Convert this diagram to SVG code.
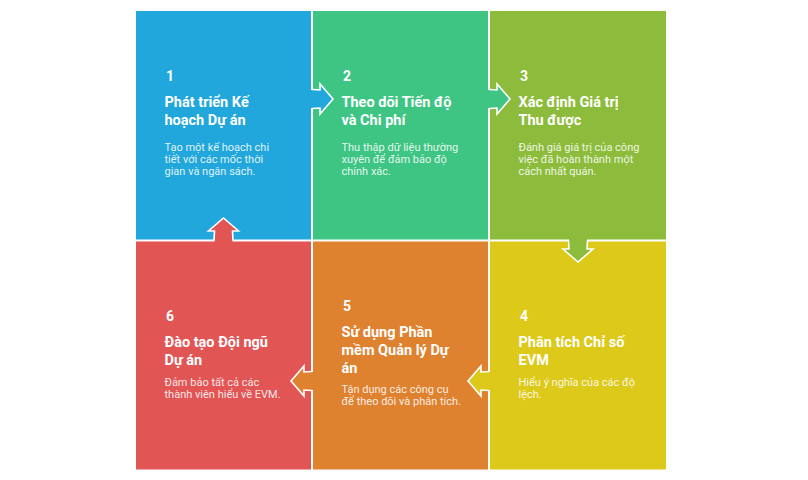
<svg xmlns="http://www.w3.org/2000/svg" width="808" height="480" viewBox="0 0 808 480">
  <style>
    .num { font-family: Roboto, "Liberation Sans", sans-serif; font-weight: 700; font-size: 14px; fill: #ffffff; }
    .ttl { font-family: Roboto, "Liberation Sans", sans-serif; font-weight: 700; font-size: 14.5px; fill: #ffffff; }
    .dsc { font-family: Roboto, "Liberation Sans", sans-serif; font-weight: 400; font-size: 11px; fill: #ffffff; fill-opacity: 0.88; }
    .edge { fill: none; stroke: #ffffff; stroke-width: 1.6; stroke-linejoin: miter; }
  </style>
  <rect x="0" y="0" width="808" height="480" fill="#ffffff"/>

  <g id="node-1">
    <rect x="136" y="11" width="175" height="228.5" fill="#21A7DB"/>
    <text class="num" x="166" y="81">1</text>
    <text class="ttl" x="164.5" y="107">Phát triển Kế</text>
    <text class="ttl" x="164.5" y="125">hoạch Dự án</text>
    <text class="dsc" x="164.5" y="150.5">Tạo một kế hoạch chi</text>
    <text class="dsc" x="164.5" y="162.5">tiết với các mốc thời</text>
    <text class="dsc" x="164.5" y="174.5">gian và ngân sách.</text>
  </g>

  <g id="node-2">
    <rect x="313" y="11" width="175" height="228.5" fill="#3EC584"/>
    <text class="num" x="343" y="81">2</text>
    <text class="ttl" x="341.5" y="107">Theo dõi Tiến độ</text>
    <text class="ttl" x="341.5" y="125">và Chi phí</text>
    <text class="dsc" x="341.5" y="150.5">Thu thập dữ liệu thường</text>
    <text class="dsc" x="341.5" y="162.5">xuyên để đảm bảo độ</text>
    <text class="dsc" x="341.5" y="174.5">chính xác.</text>
  </g>

  <g id="node-3">
    <rect x="490" y="11" width="176" height="228.5" fill="#8DBC3C"/>
    <text class="num" x="520" y="81">3</text>
    <text class="ttl" x="518.5" y="107">Xác định Giá trị</text>
    <text class="ttl" x="518.5" y="125">Thu được</text>
    <text class="dsc" x="518.5" y="150.5">Đánh giá giá trị của công</text>
    <text class="dsc" x="518.5" y="162.5">việc đã hoàn thành một</text>
    <text class="dsc" x="518.5" y="174.5">cách nhất quán.</text>
  </g>

  <g id="node-4">
    <rect x="490" y="241.5" width="176" height="228" fill="#DCC91A"/>
    <text class="num" x="520" y="321">4</text>
    <text class="ttl" x="518.5" y="347">Phân tích Chỉ số</text>
    <text class="ttl" x="518.5" y="365">EVM</text>
    <text class="dsc" x="518.5" y="385.5">Hiểu ý nghĩa của các độ</text>
    <text class="dsc" x="518.5" y="397.5">lệch.</text>
  </g>

  <g id="node-5">
    <rect x="313" y="241.5" width="175" height="228" fill="#DF8230"/>
    <text class="num" x="343" y="311">5</text>
    <text class="ttl" x="341.5" y="337">Sử dụng Phần</text>
    <text class="ttl" x="341.5" y="355">mềm Quản lý Dự</text>
    <text class="ttl" x="341.5" y="373">án</text>
    <text class="dsc" x="341.5" y="393">Tận dụng các công cụ</text>
    <text class="dsc" x="341.5" y="405">để theo dõi và phân tích.</text>
  </g>

  <g id="node-6">
    <rect x="136" y="241.5" width="175" height="228" fill="#E25555"/>
    <text class="num" x="166" y="321">6</text>
    <text class="ttl" x="164.5" y="347">Đào tạo Đội ngũ</text>
    <text class="ttl" x="164.5" y="365">Dự án</text>
    <text class="dsc" x="164.5" y="385.5">Đảm bảo tất cả các</text>
    <text class="dsc" x="164.5" y="397.5">thành viên hiểu về EVM.</text>
  </g>

  <g id="connectors">
    <!-- 1 -> 2 -->
    <polygon points="309,90 320,90 320,84 333,99 320,114 320,108 309,108" fill="#21A7DB"/>
    <polyline class="edge" points="312,89.5 320,90 320,84 333,99 320,114 320,108 312,108.5"/>
    <!-- 2 -> 3 -->
    <polygon points="486,90 497,90 497,84 510,99 497,114 497,108 486,108" fill="#3EC584"/>
    <polyline class="edge" points="489,89.5 497,90 497,84 510,99 497,114 497,108 489,108.5"/>
    <!-- 3 -> 4 -->
    <polygon points="569,237.5 569,249 563,249 578,262 593,249 587,249 587,237.5" fill="#8DBC3C"/>
    <polyline class="edge" points="568.5,240.5 569,249 563,249 578,262 593,249 587,249 587.5,240.5"/>
    <!-- 4 -> 5 -->
    <polygon points="492,372 481,372 481,366 468,381 481,396 481,390 492,390" fill="#DCC91A"/>
    <polyline class="edge" points="489,371.5 481,372 481,366 468,381 481,396 481,390 489,390.5"/>
    <!-- 5 -> 6 -->
    <polygon points="315,372 304,372 304,366 291,381 304,396 304,390 315,390" fill="#DF8230"/>
    <polyline class="edge" points="312,371.5 304,372 304,366 291,381 304,396 304,390 312,390.5"/>
    <!-- 6 -> 1 -->
    <polygon points="214.5,243.5 214.5,231 208.5,231 223.5,218 238.5,231 232.5,231 232.5,243.5" fill="#E25555"/>
    <polyline class="edge" points="214,240.5 214.5,231 208.5,231 223.5,218 238.5,231 232.5,231 233,240.5"/>
  </g>
</svg>
